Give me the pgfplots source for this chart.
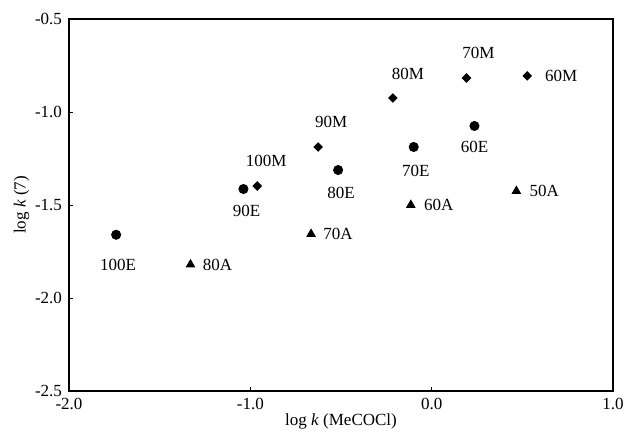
\documentclass[border=0pt]{standalone}
\usepackage{pgfplots}
\pgfplotsset{compat=1.18}
\usepackage{pgfplotstable}
\usepackage{fontspec}
\setmainfont{Liberation Serif}
\pgfplotstableread{
x y lab dx dy
-1.74 -1.66 100E 1 -15
-1.038 -1.414 90E 1.5 -11
-0.516 -1.312 80E 1.5 -11.5
-0.099 -1.188 70E 1 -12
0.236 -1.075 60E 0 -10.5
}\tE
\pgfplotstableread{
x y lab dx dy
-0.962 -1.398 100M 4.5 12.5
-0.626 -1.188 90M 6.5 12.5
-0.214 -0.925 80M 7.5 12
0.192 -0.817 70M 6 12.5
0.527 -0.806 60M 17 0
}\tM
\pgfplotstableread{
x y lab dx dy
-1.33 -1.82 80A 13.5 0
-0.665 -1.656 70A 13.5 0
-0.115 -1.50 60A 14 0
0.467 -1.425 50A 14 0
}\tA
\begin{document}
\begin{tikzpicture}
\begin{axis}[
  width=272pt, height=186pt, scale only axis,
  xmin=-2, xmax=1, ymin=-2.5, ymax=-0.5,
  xtick={-2,-1,0,1}, ytick={-2.5,-2,-1.5,-1,-0.5},
  xticklabel style={/pgf/number format/fixed,/pgf/number format/fixed zerofill,/pgf/number format/precision=1},
  yticklabel style={/pgf/number format/fixed,/pgf/number format/fixed zerofill,/pgf/number format/precision=1},
  /pgf/number format/assume math mode=true,
  tick pos=left, tick align=inside, major tick length=2pt,
  axis line style={line width=0.6pt},
  every tick/.style={black, line width=0.5pt},
  font=\fontsize{8.5}{10}\selectfont,
  tick label style={font=\fontsize{8.5}{10}\selectfont},
  xlabel={log \textit{k}  (MeCOCl)},
  ylabel={log \textit{k} (7)},
  xlabel style={yshift=5pt},
  ylabel style={yshift=-4pt},
  point meta=explicit symbolic,
  nodes near coords={\pgfplotspointmeta},
  visualization depends on={\thisrow{dx}\as\dx},
  visualization depends on={\thisrow{dy}\as\dy},
  every node near coord/.style={anchor=center, xshift=\dx pt, yshift=\dy pt, font=\fontsize{8.5}{10}\selectfont, black},
  clip=false,
]
\addplot[only marks, mark=*, mark size=2.3pt, black] table[x=x,y=y,meta=lab] {\tE};
\addplot[only marks, mark=square*, mark size=1.5pt, mark options={rotate=45}, black] table[x=x,y=y,meta=lab] {\tM};
\addplot[only marks, mark=triangle*, mark size=2.4pt, black] table[x=x,y=y,meta=lab] {\tA};
\end{axis}
\pgfresetboundingbox
\path[use as bounding box] ([xshift=-34.5pt,yshift=-22pt]current axis.south west) rectangle ([xshift=5.5pt,yshift=9.5pt]current axis.north east);
\end{tikzpicture}
\end{document}
